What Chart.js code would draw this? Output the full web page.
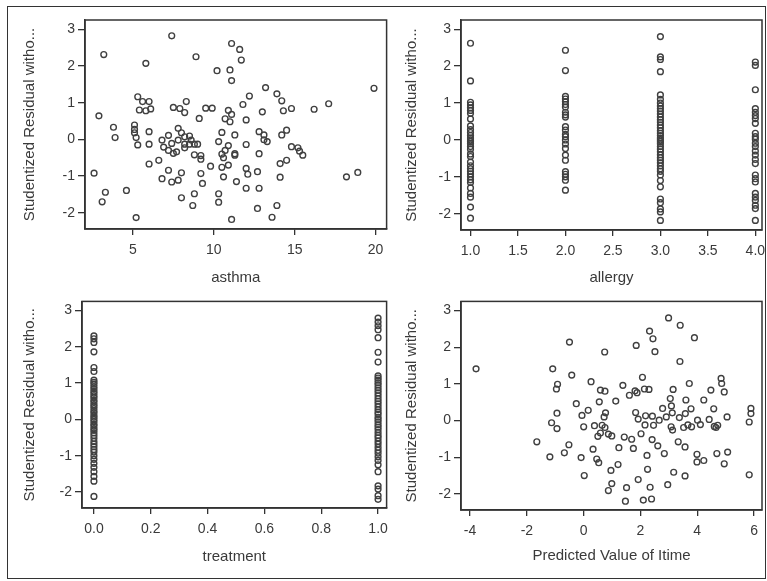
<!DOCTYPE html>
<html lang="en">
  <head>
    <meta charset="UTF-8" />
    <title>Residual plots</title>
    <script src="https://cdn.jsdelivr.net/npm/chart.js"></script>
    <style>
      body { margin: 0; background: #fff; overflow: hidden; }
      #wrap { position: relative; width: 767px; height: 581px; background: #fff; overflow: hidden; }
      #frame {
        position: absolute; left: 7px; top: 6px; width: 757px; height: 571px;
        border: 1.5px solid #333;
      }
      canvas { position: absolute; }
    </style>
  </head>
  <body>
    <div id="wrap">
      <div id="frame"></div>
      <canvas id="c1" width="384" height="282" style="left:8px;top:8px"></canvas>
      <canvas id="c2" width="376" height="282" style="left:392px;top:8px"></canvas>
      <canvas id="c3" width="384" height="288" style="left:8px;top:290px"></canvas>
      <canvas id="c4" width="376" height="288" style="left:392px;top:290px"></canvas>
    </div>

    <script>
      // --- data ---
      const yTitle = "Studentized Residual witho...";
      const residTicks = [-2, -1, 0, 1, 2, 3];

      // panel 1: asthma vs residual
      const asthma = [7.4, 3.2, 8.9, 11.1, 11.6, 11.7, 5.8, 10.2, 11.0, 11.1, 19.9, 13.2, 13.9, 14.2,
        12.2, 5.3, 5.6, 6.0, 8.3, 11.8, 17.1, 16.2, 14.8, 14.3, 13.0, 9.5, 9.9, 7.5, 7.9, 8.2, 5.4,
        5.8, 6.1, 10.9, 11.1, 10.7, 9.1, 12.0, 11.0, 2.9, 3.8, 3.9, 5.1, 5.1, 5.1, 5.2, 5.3, 6.0,
        6.0, 6.0, 6.6, 6.8, 7.2, 6.9, 7.2, 7.5, 7.4, 7.8, 8.0, 8.2, 8.5, 8.6, 8.2, 8.5, 8.8, 9.0,
        8.8, 9.2, 9.2, 9.8, 9.3, 9.2, 7.2, 6.8, 7.4, 7.8, 8.0, 8.0, 8.8, 8.7, 5.2, 4.6, 3.3, 3.1,
        2.6, 10.3, 10.5, 10.5, 10.6, 10.9, 11.3, 11.3, 11.3, 10.7, 10.9, 10.5, 10.6, 10.3, 10.3,
        11.1, 11.4, 12.0, 12.0, 12.1, 12.0, 12.8, 12.7, 12.8, 12.7, 12.8, 13.1, 13.1, 13.3, 13.9,
        13.6, 14.1, 14.1, 14.5, 14.2, 14.5, 14.8, 15.2, 15.3, 15.5, 18.2, 18.9, 7.7, 8.2, 7.8];
      const asthmaResid = [2.82, 2.31, 2.25, 2.61, 2.45, 2.16, 2.07, 1.87, 1.89, 1.6, 1.39, 1.41,
        1.24, 1.05, 1.18, 1.16, 1.03, 1.03, 1.03, 0.95, 0.97, 0.82, 0.84, 0.78, 0.75, 0.85, 0.85,
        0.87, 0.84, 0.73, 0.8, 0.78, 0.83, 0.79, 0.68, 0.56, 0.57, 0.53, 0.48, 0.64, 0.33, 0.05,
        0.39, 0.27, 0.18, 0.05, -0.15, 0.21, -0.13, -0.67, -0.57, -0.02, 0.11, -0.21, -0.3, -0.38,
        -0.11, 0.3, 0.18, 0.07, 0.09, -0.02, -0.13, -0.13, -0.13, -0.13, -0.42, -0.44, -0.54, -0.73,
        -1.2, -0.93, -0.84, -1.07, -1.16, -1.11, -0.91, -1.59, -1.48, -1.8, -2.13, -1.39, -1.44,
        -1.7, -0.92, -0.06, 0.19, -0.4, -0.5, -0.17, 0.12, -0.39, -0.43, -0.3, -0.7, -0.76, -1.02,
        -1.48, -1.71, -2.18, -1.15, -0.14, -0.79, -0.95, -1.33, -0.39, -0.88, -1.33, -1.88, 0.21,
        0.12, -0.01, -0.06, -1.8, -2.12, -1.03, -0.66, -0.57, 0.12, 0.25, -0.2, -0.23, -0.32, -0.43,
        -1.02, -0.9, -0.34, -0.23, -0.02];
      const asthmaTicks = [5, 10, 15, 20];

      // panel 2: allergy groups 1..4
      const allergyLevels = [1, 2, 3, 4];
      const allergyResid = [
        [2.62, 1.6, 1.02, 0.95, 0.87, 0.8, 0.72, 0.57, 0.38, 0.28, 0.2, 0.12, 0.05, 0.0, -0.05,
          -0.1, -0.18, -0.25, -0.38, -0.45, -0.6, -0.7, -0.78, -0.85, -0.92, -1.0, -1.08, -1.15,
          -1.3, -1.45, -1.55, -1.82, -2.12],
        [2.43, 1.88, 1.18, 1.11, 1.04, 0.96, 0.89, 0.75, 0.68, 0.62, 0.36, 0.27, 0.15, 0.09, 0.0,
          -0.11, -0.23, -0.41, -0.55, -0.86, -0.93, -1.0, -1.09, -1.36],
        [2.8, 2.25, 2.18, 1.85, 1.22, 1.1, 1.0, 0.92, 0.85, 0.78, 0.7, 0.62, 0.55, 0.48, 0.4, 0.33,
          0.25, 0.18, 0.12, 0.05, 0.0, -0.05, -0.1, -0.18, -0.25, -0.32, -0.4, -0.48, -0.55, -0.62,
          -0.7, -0.78, -0.85, -0.95, -1.1, -1.27, -1.6, -1.7, -1.87, -1.95, -2.18],
        [2.11, 2.02, 1.36, 0.85, 0.75, 0.66, 0.58, 0.45, 0.18, 0.09, 0.02, -0.09, -0.18, -0.3,
          -0.41, -0.53, -0.64, -0.95, -1.05, -1.14, -1.45, -1.55, -1.64, -1.77, -1.86, -2.18],
      ];
      const allergyTicks = [1.0, 1.5, 2.0, 2.5, 3.0, 3.5, 4.0];

      // panel 3: treatment 0 / 1
      const treatmentLevels = [0, 1];
      const treatmentResid = [
        [2.3, 2.22, 2.12, 1.86, 1.43, 1.32, 1.08, 1.02, 0.97, 0.9, 0.84, 0.77, 0.72, 0.65, 0.6,
          0.53, 0.48, 0.41, 0.36, 0.3, 0.23, 0.18, 0.11, 0.06, 0.0, -0.06, -0.13, -0.18, -0.25,
          -0.3, -0.37, -0.44, -0.52, -0.61, -0.68, -0.75, -0.83, -0.9, -1.0, -1.1, -1.21, -1.32,
          -1.44, -1.57, -1.7, -2.12],
        [2.79, 2.68, 2.58, 2.47, 2.25, 1.85, 1.58, 1.2, 1.14, 1.08, 1.01, 0.95, 0.87, 0.8, 0.73,
          0.65, 0.57, 0.5, 0.43, 0.35, 0.27, 0.2, 0.14, 0.06, 0.0, -0.07, -0.15, -0.21, -0.28,
          -0.36, -0.44, -0.51, -0.6, -0.68, -0.77, -0.85, -0.93, -1.03, -1.13, -1.25, -1.44,
          -1.83, -1.92, -2.1, -2.2],
      ];
      const treatmentTicks = [0, 0.2, 0.4, 0.6, 0.8, 1.0];

      // panel 4: predicted value vs residual
      const predicted = [-3.79, -1.65, -1.19, -1.13, -1.09, -0.94, -0.94, -0.92, -0.96, -0.68, -0.52,
        -0.5, -0.42, -0.26, -0.09, -0.06, 0.0, 0.02, 0.16, 0.26, 0.33, 0.38, 0.46, 0.53, 0.5, 0.55,
        0.59, 0.59, 0.65, 0.75, 0.72, 0.77, 0.75, 0.87, 0.99, 0.96, 0.99, 0.87, 0.74, 1.13, 1.24,
        1.21, 1.38, 1.43, 1.51, 1.47, 1.61, 1.69, 1.75, 1.81, 1.85, 1.83, 1.92, 1.88, 1.92, 2.02,
        2.07, 2.1, 2.14, 2.16, 2.18, 2.23, 2.25, 2.32, 2.3, 2.34, 2.39, 2.44, 2.41, 2.42, 2.51,
        2.46, 2.61, 2.66, 2.78, 2.84, 2.96, 2.91, 2.99, 3.05, 3.09, 3.08, 3.15, 3.13, 3.12, 3.17,
        3.33, 3.4, 3.39, 3.37, 3.52, 3.57, 3.57, 3.6, 3.58, 3.67, 3.72, 3.78, 3.8, 3.9, 3.99, 3.99,
        4.01, 4.11, 4.23, 4.23, 4.42, 4.48, 4.58, 4.6, 4.66, 4.72, 4.69, 4.84, 4.86, 4.95, 4.95,
        5.05, 5.07, 5.83, 5.83, 5.89, 5.89];
      const predictedResid = [1.41, -0.58, -0.99, -0.06, 1.41, -0.22, 0.2, 0.99, 0.86, -0.88, -0.66,
        2.14, 1.24, 0.46, -1.01, 0.14, -0.17, -1.5, 0.28, 1.06, -0.78, -0.14, -1.05, -1.15, -0.43,
        0.51, 0.83, -0.34, -0.13, 0.8, 0.1, 0.21, -0.19, -0.37, -0.42, -1.36, -1.72, -1.91, 1.87,
        0.53, -0.74, -1.2, 0.96, -0.45, -1.83, -2.2, 0.69, -0.51, -0.76, 0.81, 2.05, 0.22, -1.61,
        0.76, 0.04, -0.36, 1.18, -2.17, 0.86, -0.12, 0.13, -0.95, -1.33, 2.44, 0.85, -1.82, -2.14,
        2.23, -0.52, 0.12, 1.88, -0.13, -0.69, 0.01, 0.33, -0.9, -1.75, 0.1, 2.8, 0.6, 0.4, -0.17,
        0.85, -0.26, 0.21, -1.41, -0.58, 2.6, 1.61, 0.08, -0.19, -0.72, -1.51, 0.56, 0.19, -0.12,
        1.01, 0.32, -0.17, 2.26, -0.92, -1.13, 0.01, -0.11, 0.56, -1.09, 0.03, 0.83, 0.32, -0.16,
        -0.19, -0.13, -0.9, 1.15, 1.01, 0.78, -1.18, 0.1, -0.86, -1.48, -0.04, 0.33, 0.19];
      const predictedTicks = [-4, -2, 0, 2, 4, 6];

      // --- drawing ---
      const ink = "#3a3a3a";
      const fontFamily = "'Liberation Sans', Arial, sans-serif";

      // box around the plot area
      const boxPlugin = {
        id: "box",
        afterDraw(chart) {
          const { ctx, chartArea: a } = chart;
          ctx.save();
          ctx.strokeStyle = "#333";
          ctx.lineWidth = 1.5;
          ctx.strokeRect(a.left, a.top, a.right - a.left, a.bottom - a.top);
          ctx.restore();
        },
      };

      function makePanel(id, cfg) {
        new Chart(document.getElementById(id), {
          type: "scatter",
          data: {
            datasets: [
              {
                data: cfg.points,
                pointStyle: "circle",
                pointRadius: 2.9,
                pointBorderWidth: 1.4,
                borderColor: "#404040",
                backgroundColor: "rgba(0,0,0,0)",
              },
            ],
          },
          options: {
            responsive: false,
            animation: false,
            devicePixelRatio: 1,
            layout: { padding: { top: cfg.padTop, right: cfg.padRight, left: 0, bottom: 0 } },
            plugins: { legend: { display: false }, tooltip: { enabled: false } },
            scales: {
              x: {
                type: "linear",
                min: cfg.xMin,
                max: cfg.xMax,
                afterBuildTicks: (s) => { s.ticks = cfg.xTicks.map((v) => ({ value: v })); },
                afterFit: (s) => {
                  s.height = cfg.xAxisH;
                  s.paddingLeft = 0;
                  s.paddingRight = 0;
                },
                grid: { drawOnChartArea: false, drawTicks: true, tickLength: 6, color: "#333", lineWidth: 1.3 },
                border: { display: true, color: "#333", width: 1.5 },
                ticks: {
                  color: ink,
                  font: { family: fontFamily, size: 14 },
                  padding: 7,
                  maxRotation: 0,
                  autoSkip: false,
                  callback: cfg.xFormat,
                },
                title: {
                  display: true,
                  text: cfg.xTitle,
                  color: ink,
                  font: { family: fontFamily, size: 15 },
                  padding: { top: 0, bottom: cfg.xTitlePad },
                },
              },
              y: {
                type: "linear",
                min: -2.44,
                max: 3.25,
                afterBuildTicks: (s) => { s.ticks = residTicks.map((v) => ({ value: v })); },
                afterFit: (s) => { s.width = cfg.yAxisW; },
                grid: { drawOnChartArea: false, drawTicks: true, tickLength: 7, color: "#333", lineWidth: 1.3 },
                border: { display: true, color: "#333", width: 1.5 },
                ticks: {
                  color: ink,
                  font: { family: fontFamily, size: 14 },
                  padding: 3,
                  autoSkip: false,
                },
                title: {
                  display: true,
                  text: yTitle,
                  color: ink,
                  font: { family: fontFamily, size: 15 },
                  padding: { top: cfg.yTitlePad, bottom: 0 },
                },
              },
            },
          },
          plugins: [boxPlugin],
        });
      }

      const groupPoints = (levels, groups) =>
        levels.flatMap((lv, i) => groups[i].map((r) => ({ x: lv, y: r })));

      makePanel("c1", {
        points: asthma.map((v, i) => ({ x: v, y: asthmaResid[i] })),
        xMin: 2.04, xMax: 20.68, xTicks: asthmaTicks, xTitle: "asthma",
        xFormat: (v) => String(v),
        padTop: 12, padRight: 5, yAxisW: 77, xAxisH: 61, yTitlePad: 13, xTitlePad: 3,
      });
      makePanel("c2", {
        points: groupPoints(allergyLevels, allergyResid),
        xMin: 0.9, xMax: 4.07, xTicks: allergyTicks, xTitle: "allergy",
        xFormat: (v) => v.toFixed(1),
        padTop: 12, padRight: 6, yAxisW: 69, xAxisH: 60, yTitlePad: 11, xTitlePad: 3,
      });
      makePanel("c3", {
        points: groupPoints(treatmentLevels, treatmentResid),
        xMin: -0.042, xMax: 1.03, xTicks: treatmentTicks, xTitle: "treatment",
        xFormat: (v) => v.toFixed(1),
        padTop: 10, padRight: 5, yAxisW: 74, xAxisH: 70, yTitlePad: 13, xTitlePad: 12,
      });
      makePanel("c4", {
        points: predicted.map((v, i) => ({ x: v, y: predictedResid[i] })),
        xMin: -4.32, xMax: 6.28, xTicks: predictedTicks, xTitle: "Predicted Value of Itime",
        xFormat: (v) => String(v),
        padTop: 11, padRight: 6, yAxisW: 69, xAxisH: 68, yTitlePad: 11, xTitlePad: 13,
      });
    </script>
  </body>
</html>
